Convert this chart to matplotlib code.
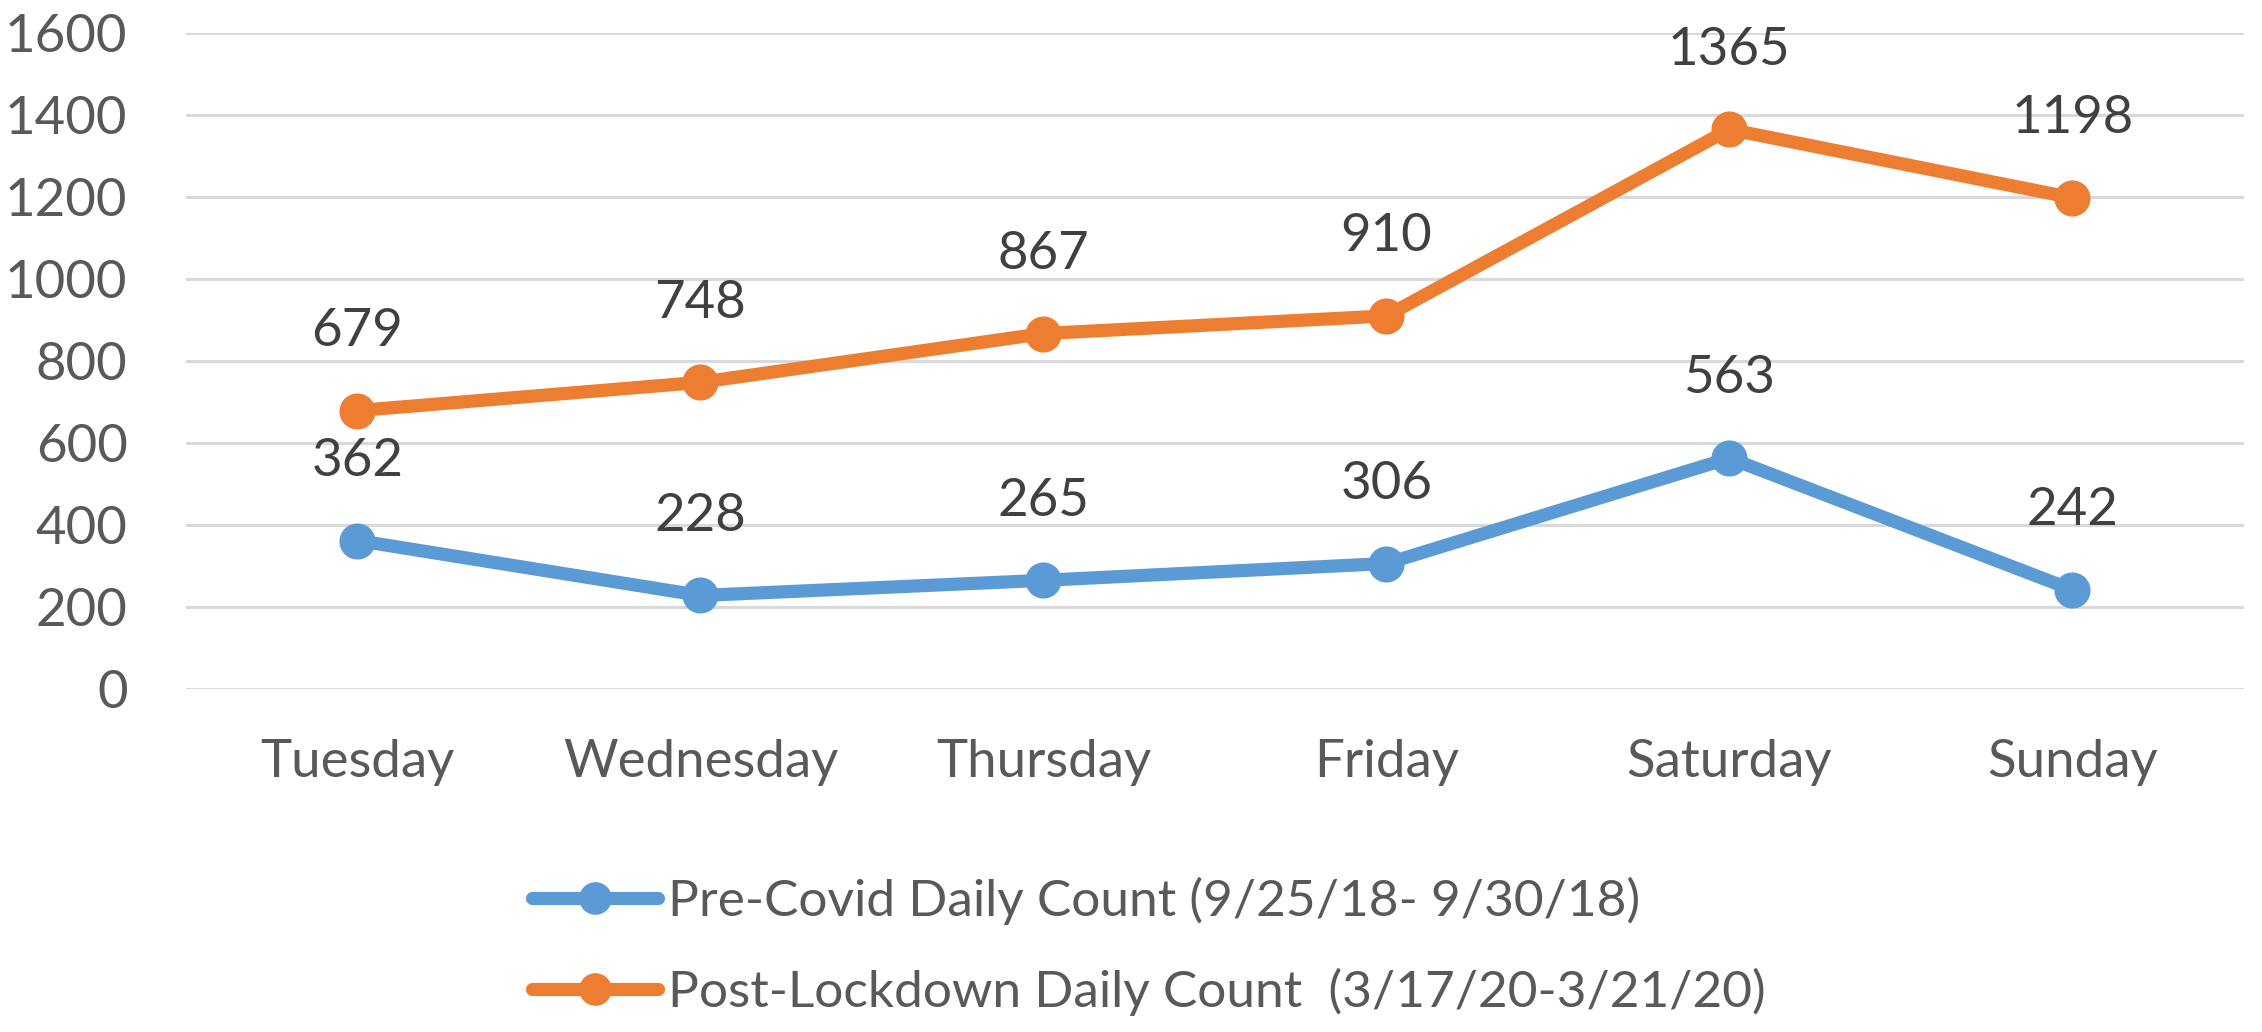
import matplotlib
matplotlib.use("Agg")
import matplotlib.pyplot as plt

days = ["Tuesday", "Wednesday", "Thursday", "Friday", "Saturday", "Sunday"]
pre_covid = [362, 228, 265, 306, 563, 242]
post_lockdown = [679, 748, 867, 910, 1365, 1198]
labels = ["Pre-Covid Daily Count (9/25/18- 9/30/18)",
          "Post-Lockdown Daily Count  (3/17/20-3/21/20)"]

BLUE = "#5B9BD5"
ORANGE = "#ED7D31"
TXT = "#595959"

plt.rcParams["font.family"] = ["Lato", "DejaVu Sans"]

fig = plt.figure(figsize=(22.62, 10.32), dpi=100)
ax = fig.add_axes([0.0822, 0.3324, 0.9098, 0.6356])

x = list(range(len(days)))
for ys, c, lab in [(pre_covid, BLUE, labels[0]), (post_lockdown, ORANGE, labels[1])]:
    ax.plot(x, ys, color=c, lw=9.5, marker="o", ms=25, label=lab,
            solid_capstyle="round", zorder=3)
    for xi, yi in zip(x, ys):
        ax.annotate(str(yi), (xi, yi), xytext=(0, 57), textcoords="offset points",
                    ha="center", va="center", fontsize=38, color="#404040",
                    annotation_clip=False)

ax.set_xlim(-0.5, len(days) - 0.5)
ax.set_ylim(0, 1600)
ax.set_yticks(range(0, 1601, 200))
ax.set_xticks(x)
ax.set_xticklabels(days)
ax.tick_params(axis="both", length=0, labelsize=38, labelcolor=TXT)
ax.tick_params(axis="x", pad=36)
ax.tick_params(axis="y", pad=42)
ax.grid(axis="y", color="#D9D9D9", lw=2.2)
ax.set_axisbelow(True)
for s in ax.spines.values():
    s.set_visible(False)

fig.legend(loc="center", bbox_to_anchor=(0.508, 0.083), ncol=1, frameon=False,
           fontsize=37, handlelength=2.45, handletextpad=0.2, labelspacing=0.85,
           labelcolor=TXT, markerscale=0.9)

fig.savefig("out.png", dpi=100)
